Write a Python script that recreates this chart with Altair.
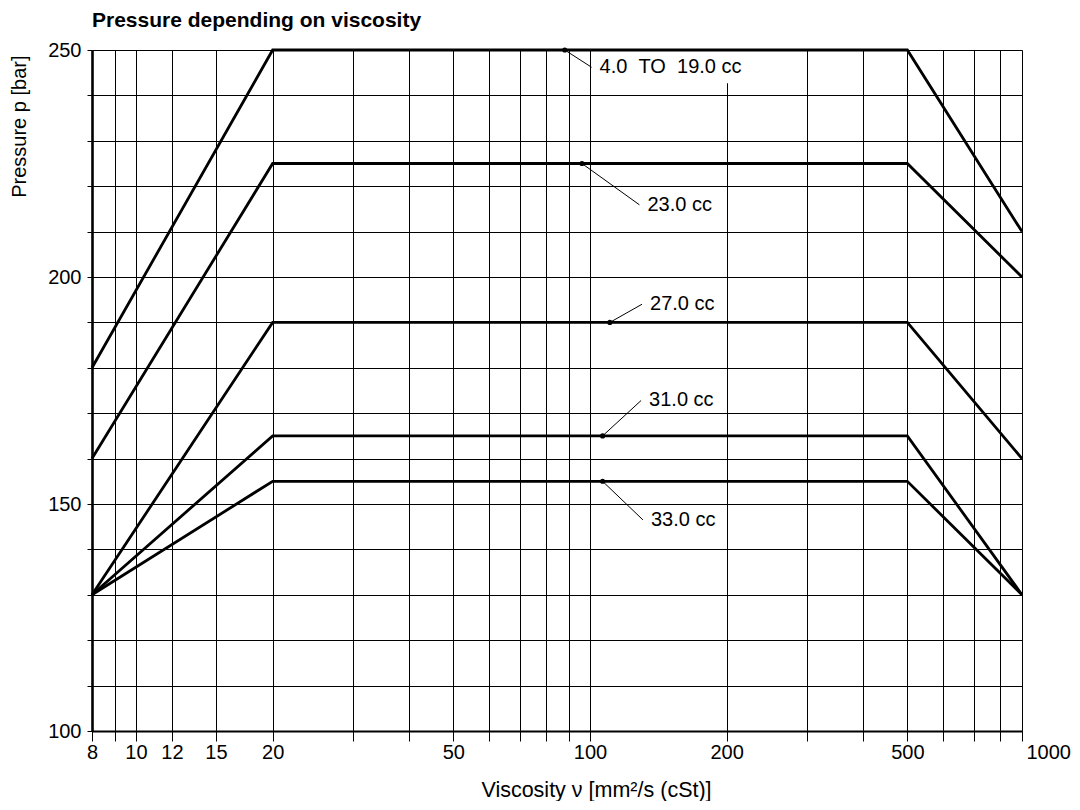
import altair as alt
import pandas as pd

# ---- data -------------------------------------------------------------
visc = [8, 20, 500, 1000]
series_names = ["4.0 TO 19.0 cc", "23.0 cc", "27.0 cc", "31.0 cc", "33.0 cc"]
p_4_19 = [180, 250, 250, 210]
p_23 = [160, 225, 225, 200]
p_27 = [130, 190, 190, 160]
p_31 = [130, 165, 165, 130]
p_33 = [130, 155, 155, 130]
series_values = [p_4_19, p_23, p_27, p_31, p_33]

# annotation labels (dot on the curve, leader line end, text)
label_text = ["4.0\u00a0\u00a0TO\u00a0\u00a019.0 cc", "23.0 cc", "27.0 cc", "31.0 cc", "33.0 cc"]
dot_x = [88, 96, 110.6, 106.6, 106.6]
dot_y = [250, 225, 190, 165, 155]
lead_x = [100.8, 128.5, 130.2, 129.6, 130.8]
lead_y = [246.2, 215.9, 194.0, 172.8, 146.5]

# white background behind the top label
bg_x = [101.7]
bg_x2 = [229]
bg_y = [242.7]
bg_y2 = [250]

# axes
x_grid = [8, 9, 10, 12, 15, 20, 30, 40, 50, 60, 70, 80, 90, 100, 200, 300, 400,
          500, 600, 700, 800, 1000]
x_labels = [8, 10, 12, 15, 20, 50, 100, 200, 500, 1000]
y_ticks = list(range(100, 251, 10))
y_labels = [100, 150, 200, 250]

FONT = "Liberation Sans"

# ---- tables -----------------------------------------------------------
rows = []
for name, vals in zip(series_names, series_values):
    for v, p in zip(visc, vals):
        rows.append({"series": name, "x": v, "y": p})
df_lines = pd.DataFrame(rows)

df_ann = pd.DataFrame({"label": label_text, "x": dot_x, "y": dot_y,
                       "x2": lead_x, "y2": lead_y})
df_txt = pd.DataFrame({"label": label_text, "x": lead_x, "y": lead_y})
df_bg = pd.DataFrame({"x": bg_x, "x2": bg_x2, "y": bg_y, "y2": bg_y2})

# ---- scales / axes ----------------------------------------------------
W, H = 930, 681
x_scale = alt.Scale(type="log", domain=[8, 800, 1000], range=[0, 908, 930], nice=False)
y_scale = alt.Scale(domain=[100, 250], nice=False, zero=False)

lbl_list = ",".join(str(v) for v in x_labels)
x_axis = alt.Axis(
    title="Viscosity \u03bd [mm\u00b2/s (cSt)]",
    values=x_grid,
    format="d",
    labelExpr=f"indexof([{lbl_list}], datum.value) >= 0 ? datum.label : ''",
    labelFlush=False,
    labelOverlap=False,
    labelBound=False,
    labelAlign={"condition": {"test": "datum.value >= 1000", "value": "left"}, "value": "center"},
    labelOffset={"condition": {"test": "datum.value >= 1000", "value": 4}, "value": 0},
    labelPadding=1,
    labelFontSize=20,
    labelFont=FONT,
    labelColor="black",
    tickSize=10,
    tickColor="black",
    tickWidth=1,
    grid=True,
    gridColor="black",
    gridWidth=1,
    domainColor="black",
    domainWidth=2.2,
    titleFont=FONT,
    titleFontSize=21.5,
    titleFontWeight="normal",
    titleColor="black",
    titleX=504,
    titleY=65,
    titleAlign="center",
    titleBaseline="alphabetic",
)

y_axis = alt.Axis(
    title="Pressure p [bar]",
    values=y_ticks,
    labelExpr="datum.value % 50 == 0 ? datum.label : ''",
    labelPadding=6,
    labelFontSize=20,
    labelFont=FONT,
    labelColor="black",
    tickSize=5,
    tickColor="black",
    tickWidth=1,
    grid=True,
    gridColor="black",
    gridWidth=1,
    domainColor="black",
    domainWidth=2.6,
    titleFont=FONT,
    titleFontSize=20,
    titleFontWeight="normal",
    titleColor="black",
    titleAngle=270,
    titleAlign="right",
    titleBaseline="alphabetic",
    titleX=-67,
    titleY=5,
)

X = alt.X("x:Q", scale=x_scale, axis=x_axis)
Y = alt.Y("y:Q", scale=y_scale, axis=y_axis)

bg = alt.Chart(df_bg).mark_rect(fill="white", stroke=None).encode(
    x=X, x2="x2:Q", y=Y, y2="y2:Q")

lines = alt.Chart(df_lines).mark_line(color="black", strokeWidth=2.8).encode(
    x=X, y=Y, detail="series:N")

leaders = alt.Chart(df_ann).mark_rule(color="black", strokeWidth=1).encode(
    x=X, y=Y, x2="x2:Q", y2="y2:Q")

dots = alt.Chart(df_ann).mark_circle(color="black", size=26, opacity=1).encode(
    x=X, y=Y)

texts = alt.Chart(df_txt).mark_text(
    align="left", baseline="middle", dx=8, fontSize=20, font=FONT, color="black"
).encode(x=X, y=Y, text="label:N")

chart = alt.layer(bg, lines, leaders, dots, texts).properties(
    width=W,
    height=H,
    title=alt.TitleParams(
        "Pressure depending on viscosity",
        anchor="start",
        frame="group",
        font=FONT,
        fontSize=21,
        fontWeight="bold",
        color="black",
        offset=9,
    ),
    padding={"left": 84, "top": 42, "right": 50, "bottom": 70},
    autosize=alt.AutoSizeParams(type="none"),
).configure_view(stroke=None).configure(background="white")

chart.save("out.html", embed_options={"renderer": "svg", "actions": False})
